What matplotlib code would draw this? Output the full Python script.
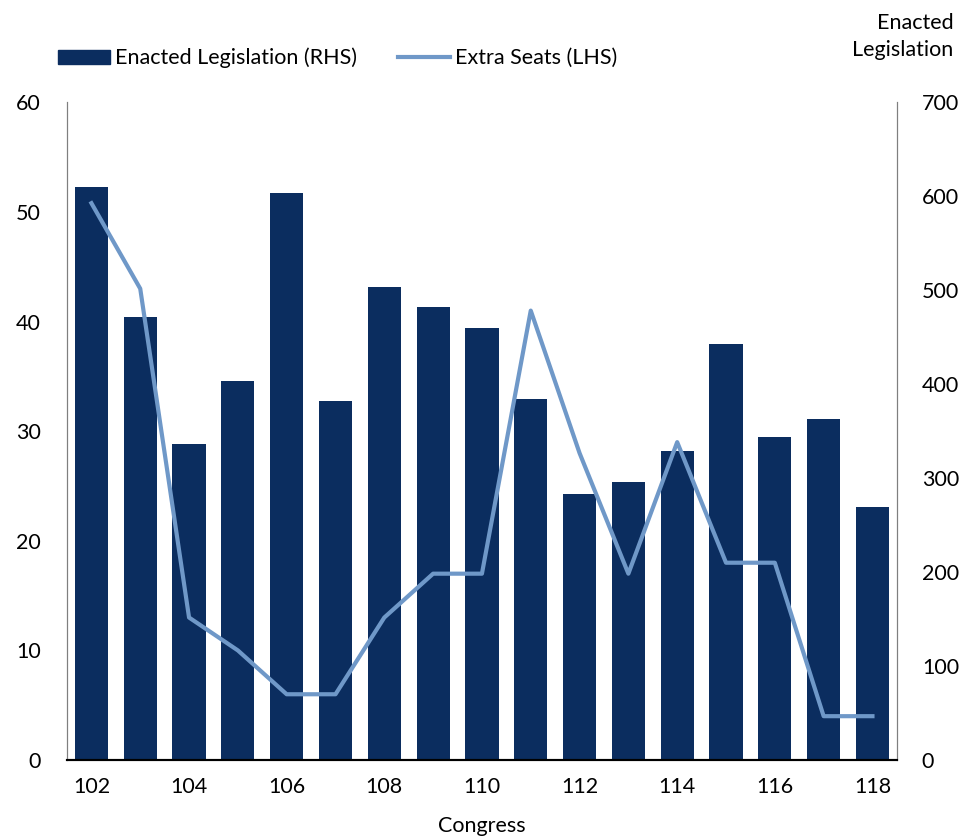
import matplotlib
matplotlib.use("Agg")
import matplotlib.pyplot as plt
from matplotlib.lines import Line2D
from matplotlib.patches import Patch

plt.rcParams['font.family'] = ['Lato', 'DejaVu Sans']
plt.rcParams['font.size'] = 15.5

congress = list(range(102, 119))
enacted = [610, 472, 336, 403, 603, 382, 503, 482, 460, 384, 283, 296, 329, 443, 344, 363, 269]
extra_seats = [50.8, 43, 13, 10, 6, 6, 13, 17, 17, 41, 28, 17, 29, 18, 18, 4, 4]

bar_color = '#0B2D5F'
line_color = '#6F98C8'

fig = plt.figure(figsize=(9.74, 8.4), dpi=100)
ax = fig.add_axes([0.0688, 0.0952, 0.852, 0.783])
ax2 = ax.twinx()

# bars on the right axis, line on the left axis drawn on top
ax2.bar(congress, enacted, width=0.68, color=bar_color, zorder=1)
ax.plot(congress, extra_seats, color=line_color, lw=3, zorder=3)
ax.set_zorder(ax2.get_zorder() + 1)
ax.patch.set_visible(False)

ax.set_xlim(101.5, 118.5)
ax.set_ylim(0, 60)
ax2.set_ylim(0, 700)
ax.set_yticks(range(0, 61, 10))
ax2.set_yticks(range(0, 701, 100))
ax.set_xticks(range(102, 119, 2))

for a in (ax, ax2):
    a.spines['top'].set_visible(False)
    a.spines['left'].set_color('#7f7f7f')
    a.spines['right'].set_color('#7f7f7f')
    a.spines['bottom'].set_color('black')
    a.spines['bottom'].set_linewidth(1.5)
    a.tick_params(length=0, labelsize=15.5)
ax.tick_params(axis='y', pad=19)
ax2.tick_params(axis='y', pad=18)
ax.tick_params(axis='x', pad=12)

ax.set_xlabel('Congress', fontsize=15.5, labelpad=14)

fig.text(0.979, 0.985, 'Enacted\nLegislation', ha='right', va='top', fontsize=15.5, linespacing=1.45)

handles = [Patch(color=bar_color, label='Enacted Legislation (RHS)'),
           Line2D([], [], color=line_color, lw=3, label='Extra Seats (LHS)')]
fig.legend(handles=handles, loc='center left', bbox_to_anchor=(0.0595, 0.931), ncol=2,
           frameon=False, borderpad=0, borderaxespad=0,
           handlelength=2.4, handleheight=0.6, handletextpad=0.25,
           columnspacing=1.9, fontsize=15.5)

fig.savefig('out.png', dpi=100)
